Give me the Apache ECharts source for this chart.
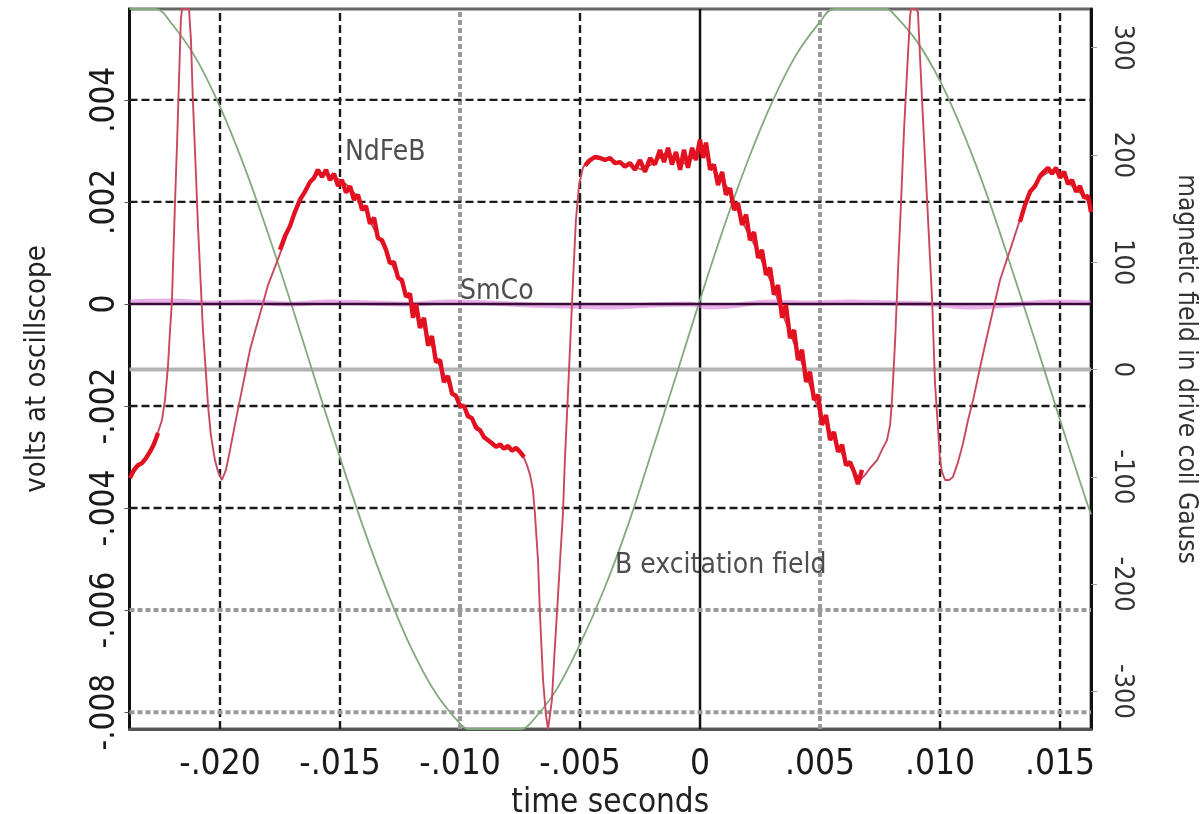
<!DOCTYPE html>
<html>
<head>
<meta charset="utf-8">
<script src="https://cdn.jsdelivr.net/npm/echarts@6/dist/echarts.min.js"></script>
<style>
  html, body { margin: 0; padding: 0; background: #ffffff; }
  #chart { width: 1202px; height: 814px; }
</style>
</head>
<body>
<div id="chart"></div>
<script>
// ---- axis ranges ----
const timeRange = [-0.02377, 0.01629];
const voltRange = [-0.00833, 0.00578];
const gaussRange = [-335, 336];

// ---- tick values and their printed labels ----
const timeTicks = [-0.020, -0.015, -0.010, -0.005, 0, 0.005, 0.010, 0.015];
const timeTickLabels = ['-.020', '-.015', '-.010', '-.005', '0', '.005', '.010', '.015'];
const voltTicks = [0.004, 0.002, 0, -0.002, -0.004, -0.006, -0.008];
const voltTickLabels = ['.004', '.002', '0', '-.002', '-.004', '-.006', '-.008'];
const gaussTicks = [300, 200, 100, 0, -100, -200, -300];
const gaussTickLabels = ['300', '200', '100', '0', '-100', '-200', '-300'];

// guide lines drawn in lighter, heavier grey dashes
const greyTimeGuides = [-0.010, 0.005];
const greyVoltGuides = [-0.006, -0.008];

// ---- NdFeB pickup signal [time s, volts] ----
const ndfebTrace = [
  [-0.02375,-0.00341],[-0.02346,-0.00322],[-0.02321,-0.00310],[-0.02300,-0.00296],[-0.02279,-0.00273],
  [-0.02258,-0.00251],[-0.02242,-0.00228],[-0.02229,-0.00188],[-0.02217,-0.00124],[-0.02208,-0.00051],
  [-0.02200,0.00008],[-0.02188,0.00190],[-0.02179,0.00312],[-0.02171,0.00435],[-0.02163,0.00557],
  [-0.02158,0.00578],[-0.02129,0.00578],[-0.02121,0.00518],[-0.02113,0.00400],[-0.02100,0.00253],
  [-0.02092,0.00155],[-0.02079,0.00027],[-0.02071,-0.00051],[-0.02058,-0.00139],[-0.02050,-0.00198],
  [-0.02038,-0.00257],[-0.02021,-0.00306],[-0.02008,-0.00329],[-0.01992,-0.00345],[-0.01975,-0.00325],
  [-0.01958,-0.00286],[-0.01938,-0.00237],[-0.01917,-0.00188],[-0.01896,-0.00139],[-0.01875,-0.00090],
  [-0.01850,-0.00047],[-0.01825,-0.00006],[-0.01800,0.00037],[-0.01763,0.00082],[-0.01729,0.00125],
  [-0.01696,0.00171],[-0.01667,0.00204],[-0.01638,0.00229],[-0.01613,0.00247],[-0.01583,0.00257],
  [-0.01554,0.00253],[-0.01529,0.00249],[-0.01500,0.00243],[-0.01471,0.00233],[-0.01446,0.00220],
  [-0.01417,0.00204],[-0.01388,0.00178],[-0.01363,0.00151],[-0.01333,0.00125],[-0.01304,0.00100],
  [-0.01279,0.00073],[-0.01250,0.00047],[-0.01208,0.00008],[-0.01167,-0.00031],[-0.01125,-0.00071],
  [-0.01083,-0.00124],[-0.01054,-0.00149],[-0.01029,-0.00175],[-0.01000,-0.00194],[-0.00971,-0.00212],
  [-0.00946,-0.00227],[-0.00917,-0.00247],[-0.00888,-0.00267],[-0.00863,-0.00275],[-0.00833,-0.00280],
  [-0.00800,-0.00284],[-0.00763,-0.00286],[-0.00738,-0.00296],[-0.00721,-0.00316],[-0.00708,-0.00335],
  [-0.00696,-0.00365],[-0.00688,-0.00410],[-0.00675,-0.00502],[-0.00667,-0.00606],[-0.00654,-0.00737],
  [-0.00642,-0.00806],[-0.00633,-0.00833],[-0.00625,-0.00833],[-0.00617,-0.00776],[-0.00608,-0.00698],
  [-0.00596,-0.00606],[-0.00583,-0.00502],[-0.00571,-0.00410],[-0.00563,-0.00306],[-0.00554,-0.00214],
  [-0.00542,-0.00090],[-0.00529,0.00047],[-0.00517,0.00165],[-0.00504,0.00233],[-0.00488,0.00267],
  [-0.00467,0.00282],[-0.00442,0.00286],[-0.00417,0.00288],[-0.00375,0.00282],[-0.00333,0.00276],
  [-0.00292,0.00271],[-0.00238,0.00263],[-0.00188,0.00278],[-0.00138,0.00298],[-0.00096,0.00282],
  [-0.00054,0.00273],[-0.00021,0.00292],[0,0.00308],[0.00021,0.00302],[0.00042,0.00273],
  [0.00071,0.00253],[0.00113,0.00229],[0.00138,0.00204],[0.00167,0.00171],[0.00200,0.00139],
  [0.00238,0.00106],[0.00279,0.00061],[0.00313,0.00024],[0.00333,-0.00006],[0.00375,-0.00057],
  [0.00417,-0.00106],[0.00446,-0.00143],[0.00467,-0.00173],[0.00500,-0.00214],[0.00529,-0.00237],
  [0.00554,-0.00261],[0.00583,-0.00286],[0.00613,-0.00312],[0.00638,-0.00325],[0.00667,-0.00345],
  [0.00688,-0.00335],[0.00708,-0.00322],[0.00738,-0.00306],[0.00758,-0.00286],[0.00779,-0.00267],
  [0.00792,-0.00237],[0.00800,-0.00188],[0.00813,-0.00071],[0.00825,0.00067],[0.00838,0.00204],
  [0.00850,0.00341],[0.00863,0.00459],[0.00875,0.00563],[0.00879,0.00578],[0.00900,0.00578],
  [0.00908,0.00571],[0.00925,0.00400],[0.00946,0.00204],[0.00967,0.00008],[0.00979,-0.00155],
  [0.00992,-0.00247],[0.01000,-0.00306],[0.01008,-0.00329],[0.01021,-0.00345],[0.01038,-0.00345],
  [0.01054,-0.00339],[0.01075,-0.00310],[0.01096,-0.00273],[0.01117,-0.00227],[0.01138,-0.00188],
  [0.01167,-0.00124],[0.01192,-0.00071],[0.01221,-0.00012],[0.01250,0.00047],[0.01292,0.00106],
  [0.01333,0.00165],[0.01363,0.00204],[0.01396,0.00233],[0.01421,0.00249],[0.01446,0.00257],
  [0.01471,0.00259],[0.01500,0.00257],[0.01529,0.00243],[0.01554,0.00229],[0.01583,0.00218],
  [0.01613,0.00204],[0.01629,0.00184]
];

// noisy stretches of the NdFeB signal, where the trace is a wide jagged band
const ndfebNoiseLeft = [
  [-0.02375,-0.00341],[-0.02358,-0.00325],[-0.02342,-0.00316],[-0.02325,-0.00312],[-0.02308,-0.00302],
  [-0.02292,-0.00290],[-0.02275,-0.00275],[-0.02258,-0.00253]
];
const ndfebNoiseFall = [
  [-0.01750,0.00106],[-0.01729,0.00133],[-0.01708,0.00153],[-0.01688,0.00180],[-0.01667,0.00204],
  [-0.01646,0.00220],[-0.01625,0.00239],[-0.01608,0.00247],[-0.01592,0.00263],[-0.01575,0.00249],
  [-0.01558,0.00263],[-0.01542,0.00243],[-0.01525,0.00255],[-0.01508,0.00231],[-0.01492,0.00243],
  [-0.01475,0.00218],[-0.01458,0.00231],[-0.01442,0.00204],[-0.01425,0.00214],[-0.01408,0.00184],
  [-0.01392,0.00192],[-0.01375,0.00157],[-0.01358,0.00169],[-0.01342,0.00129],[-0.01325,0.00125],
  [-0.01308,0.00106],[-0.01292,0.00080],[-0.01275,0.00082],[-0.01258,0.00051],[-0.01242,0.00047],
  [-0.01225,0.00014],[-0.01208,0.00020],[-0.01196,-0.00027],[-0.01183,0.00000],[-0.01167,-0.00047],
  [-0.01150,-0.00027],[-0.01133,-0.00082],[-0.01117,-0.00063],[-0.01100,-0.00114],[-0.01083,-0.00110],
  [-0.01067,-0.00153],[-0.01050,-0.00141],[-0.01033,-0.00176],[-0.01017,-0.00180],[-0.01000,-0.00200],
  [-0.00983,-0.00200],[-0.00967,-0.00220],[-0.00950,-0.00224],[-0.00933,-0.00243],[-0.00917,-0.00247],
  [-0.00900,-0.00261],[-0.00883,-0.00267],[-0.00867,-0.00273],[-0.00850,-0.00280],[-0.00833,-0.00275],
  [-0.00817,-0.00284],[-0.00800,-0.00278],[-0.00783,-0.00288],[-0.00767,-0.00282],[-0.00750,-0.00290],
  [-0.00733,-0.00300]
];
const ndfebNoiseTop = [
  [-0.00479,0.00271],[-0.00458,0.00282],[-0.00438,0.00288],[-0.00417,0.00286],[-0.00396,0.00282],
  [-0.00375,0.00286],[-0.00354,0.00276],[-0.00333,0.00278],[-0.00313,0.00269],[-0.00292,0.00276],
  [-0.00271,0.00263],[-0.00250,0.00282],[-0.00229,0.00259],[-0.00208,0.00286],[-0.00188,0.00273],
  [-0.00167,0.00302],[-0.00150,0.00278],[-0.00133,0.00306],[-0.00117,0.00273],[-0.00100,0.00298],
  [-0.00083,0.00263],[-0.00067,0.00302],[-0.00050,0.00267],[-0.00033,0.00306],[-0.00017,0.00282],
  [0,0.00322],[0.00013,0.00286],[0.00025,0.00316],[0.00042,0.00263],[0.00058,0.00273],
  [0.00075,0.00233],[0.00092,0.00259],[0.00108,0.00214],[0.00125,0.00227],[0.00142,0.00184],
  [0.00158,0.00198],[0.00175,0.00155],[0.00192,0.00175],[0.00208,0.00125],[0.00225,0.00141],
  [0.00242,0.00090],[0.00258,0.00106],[0.00275,0.00057],[0.00292,0.00071],[0.00308,0.00018],
  [0.00325,0.00037],[0.00342,-0.00027],[0.00358,-0.00002],[0.00375,-0.00067],[0.00392,-0.00051],
  [0.00408,-0.00110],[0.00425,-0.00090],[0.00442,-0.00153],[0.00458,-0.00133],[0.00475,-0.00188],
  [0.00492,-0.00178],[0.00508,-0.00237],[0.00525,-0.00218],[0.00542,-0.00267],[0.00558,-0.00251],
  [0.00575,-0.00290],[0.00592,-0.00276],[0.00608,-0.00316],[0.00625,-0.00310],[0.00642,-0.00329],
  [0.00658,-0.00353],[0.00675,-0.00325]
];
const ndfebNoiseRight = [
  [0.01333,0.00161],[0.01354,0.00194],[0.01375,0.00220],[0.01396,0.00231],[0.01417,0.00251],
  [0.01433,0.00259],[0.01450,0.00267],[0.01467,0.00255],[0.01483,0.00267],[0.01500,0.00247],
  [0.01517,0.00259],[0.01533,0.00235],[0.01550,0.00243],[0.01567,0.00220],[0.01583,0.00231],
  [0.01600,0.00208],[0.01617,0.00212],[0.01629,0.00180]
];

// ---- SmCo pickup signal [time s, volts] ----
const smcoTrace = [
  [-0.02375,0.00004],[-0.02208,0.00006],[-0.02042,0.00002],[-0.01875,0.00004],[-0.01708,0.00000],
  [-0.01542,0.00004],[-0.01375,0.00002],[-0.01208,0.00000],[-0.01042,0.00004],[-0.00875,0.00002],
  [-0.00708,-0.00002],[-0.00542,-0.00004],[-0.00375,-0.00006],[-0.00208,-0.00002],[-0.00042,0.00000],
  [0.00042,-0.00006],[0.00125,-0.00004],[0.00292,0.00004],[0.00458,0.00002],[0.00625,0.00004],
  [0.00792,0.00002],[0.00958,0.00000],[0.01125,-0.00006],[0.01292,-0.00002],[0.01458,0.00004],
  [0.01629,0.00002]
];

// ---- drive coil field [time s, gauss] ----
const fieldTrace = [
  [-0.02377,336],[-0.02268,336],[-0.022,322],[-0.021,290],[-0.020,245],[-0.019,190],[-0.018,127],
  [-0.017,59],[-0.016,-12],[-0.015,-82],[-0.014,-149],[-0.013,-209],[-0.012,-261],[-0.011,-302],
  [-0.010,-330],[-0.00965,-335],[-0.00743,-335],[-0.007,-328],[-0.006,-299],[-0.005,-256],
  [-0.004,-205],[-0.003,-145],[-0.002,-76],[-0.001,-6],[0,65],[0.001,133],[0.002,195],[0.003,249],
  [0.004,293],[0.005,324],[0.00556,336],[0.00778,336],[0.008,333],[0.009,307],[0.010,269],
  [0.011,219],[0.012,160],[0.013,93],[0.014,24],[0.015,-47],[0.016,-116],[0.01629,-135]
];

// ---- text notes placed in data coordinates ----
const notes = [
  { text: 'NdFeB', t: -0.01479, value: 0.00296, axis: 0 },
  { text: 'SmCo', t: -0.01000, value: 0.00024, axis: 0 },
  { text: 'B excitation field', t: -0.00354, value: -183, axis: 1 }
];

const FONT = "'Liberation Sans Narrow', 'DejaVu Sans Condensed', 'Liberation Sans', sans-serif";

function pick(values, labels) {
  return function (v) {
    for (let i = 0; i < values.length; i++) {
      if (Math.abs(values[i] - v) < 1e-9) return labels[i];
    }
    return '';
  };
}
function isIn(list, v) {
  return list.some(function (x) { return Math.abs(x - v) < 1e-9; });
}

const blackDash = { color: '#1a1a1a', width: 2.4, type: [8, 4] };
const greyDash = { color: '#9a9a9a', width: 4, type: [5, 3] };

// one two-point line series per guide, drawn through the axes' own scales
function guideSeries(points, style, yIndex) {
  return {
    type: 'line', data: points, yAxisIndex: yIndex, showSymbol: false, silent: true,
    z: 1, clip: true, lineStyle: style, animation: false
  };
}
const guides = [];
timeTicks.forEach(function (t) {
  let style = blackDash;
  if (t === 0) style = { color: '#111111', width: 2.5, type: 'solid' };
  else if (isIn(greyTimeGuides, t)) style = greyDash;
  guides.push(guideSeries([[t, voltRange[0]], [t, voltRange[1]]], style, 0));
});
voltTicks.forEach(function (v) {
  if (v === 0) return;
  const style = isIn(greyVoltGuides, v) ? greyDash : blackDash;
  guides.push(guideSeries([[timeRange[0], v], [timeRange[1], v]], style, 0));
});
// zero of the field scale
guides.push(guideSeries([[timeRange[0], 0], [timeRange[1], 0]],
  { color: '#b4b4b4', width: 4, type: 'solid' }, 1));

const noiseSeries = [ndfebNoiseLeft, ndfebNoiseFall, ndfebNoiseTop, ndfebNoiseRight].map(function (seg) {
  return {
    type: 'line', data: seg, yAxisIndex: 0, showSymbol: false, silent: true, z: 6,
    lineStyle: { color: '#e3101f', width: 4.4 }, clip: true
  };
});

const noteSeries = notes.map(function (n) {
  return {
    type: 'scatter', yAxisIndex: n.axis, data: [[n.t, n.value]], symbolSize: 0, silent: true, z: 8,
    label: {
      show: true, position: 'right', distance: 0, formatter: n.text,
      fontFamily: FONT, fontSize: 28, color: '#222222'
    }
  };
});

const chart = echarts.init(document.getElementById('chart'), null, { renderer: 'canvas' });

const option = {
  backgroundColor: '#ffffff',
  animation: false,
  grid: {
    left: 129.5, right: 111, top: 9, bottom: 85,
    outerBoundsMode: 'none', containLabel: false,
    show: true, borderColor: '#666666', borderWidth: 3, backgroundColor: 'transparent'
  },
  xAxis: {
    type: 'value', min: timeRange[0], max: timeRange[1],
    name: 'time seconds', nameLocation: 'middle', nameGap: 52,
    nameTextStyle: { fontFamily: FONT, fontSize: 33, color: '#222222' },
    axisLine: { show: true, onZero: false, lineStyle: { color: '#555555', width: 3 } },
    axisTick: { show: false },
    splitLine: { show: false },
    axisLabel: {
      customValues: timeTicks, margin: 18, color: '#1a1a1a',
      fontFamily: FONT, fontSize: 35, formatter: pick(timeTicks, timeTickLabels)
    }
  },
  yAxis: [
    {
      type: 'value', min: voltRange[0], max: voltRange[1], position: 'left',
      name: 'volts at oscillscope', nameLocation: 'middle', nameGap: 78,
      nameTextStyle: { fontFamily: FONT, fontSize: 29, color: '#222222' },
      axisLine: { show: true, onZero: false, lineStyle: { color: '#111111', width: 3 } },
      axisTick: { show: true, customValues: voltTicks, length: 5, lineStyle: { color: '#555555' } },
      splitLine: { show: false },
      axisLabel: {
        customValues: voltTicks, rotate: 90, margin: 8, color: '#1a1a1a',
        fontFamily: FONT, fontSize: 33, formatter: pick(voltTicks, voltTickLabels)
      }
    },
    {
      type: 'value', min: gaussRange[0], max: gaussRange[1], position: 'right',
      name: 'magnetic field in drive coil Gauss', nameLocation: 'middle', nameGap: 82, nameRotate: -90,
      nameTextStyle: { fontFamily: FONT, fontSize: 26, color: '#333333' },
      axisLine: { show: true, onZero: false, lineStyle: { color: '#111111', width: 3 } },
      axisTick: { show: true, customValues: gaussTicks, length: 6, lineStyle: { color: '#999999' } },
      splitLine: { show: false },
      axisLabel: {
        customValues: gaussTicks, rotate: -90, margin: 18, color: '#333333',
        fontFamily: FONT, fontSize: 27, formatter: pick(gaussTicks, gaussTickLabels)
      }
    }
  ],
  series: guides.concat([
    {
      name: 'excitation field', type: 'line', data: fieldTrace, yAxisIndex: 1,
      showSymbol: false, smooth: 0.35, silent: true, z: 3, clip: true,
      lineStyle: { color: '#82aa7c', width: 1.8 }
    },
    {
      name: 'SmCo', type: 'line', data: smcoTrace, yAxisIndex: 0,
      showSymbol: false, smooth: 0.4, silent: true, z: 4,
      lineStyle: { color: 'rgba(214,110,214,0.55)', width: 5 }
    },
    // baseline under the SmCo trace
    guideSeries([[timeRange[0], 0], [timeRange[1], 0]], { color: '#3a0a3a', width: 2.6, type: 'solid' }, 0),
    {
      name: 'NdFeB', type: 'line', data: ndfebTrace, yAxisIndex: 0,
      showSymbol: false, silent: true, z: 5, clip: true,
      lineStyle: { color: '#c8485e', width: 1.9 }
    }
  ]).concat(noiseSeries).concat(noteSeries)
};
// the SmCo baseline sits above the halo
option.series.forEach(function (s) {
  if (s.lineStyle && s.lineStyle.color === '#3a0a3a') s.z = 4.5;
});

chart.setOption(option);
</script>
</body>
</html>
